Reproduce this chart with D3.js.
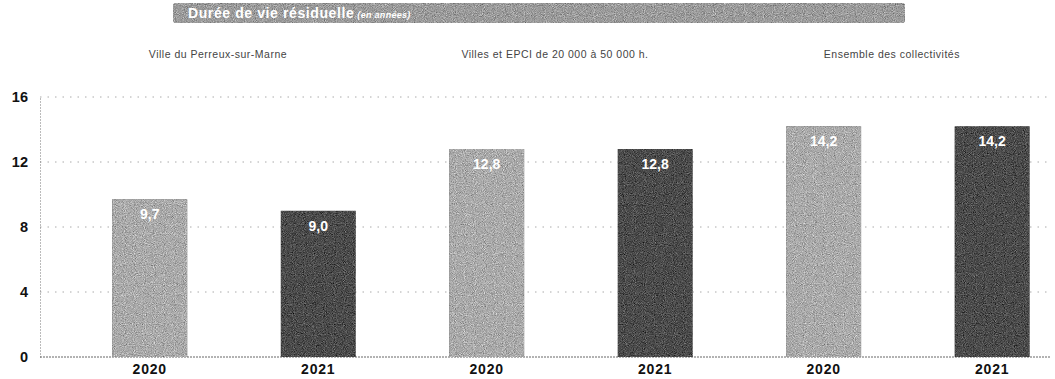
<!DOCTYPE html>
<html>
<head>
<meta charset="utf-8">
<script src="https://cdn.jsdelivr.net/npm/d3@7"></script>
<style>
  html, body { margin: 0; padding: 0; background: #fff; }
  svg { display: block; font-family: "Liberation Sans", Arial, sans-serif; }
</style>
</head>
<body>
<svg id="chart" width="1055" height="379"></svg>
<script>
// Durée de vie résiduelle de la dette (en années), par groupe et par exercice
const groups = ["Ville du Perreux-sur-Marne", "Villes et EPCI de 20 000 à 50 000 h.", "Ensemble des collectivités"];
const years = ["2020", "2021"];
const values2020 = [9.7, 12.8, 14.2];
const values2021 = [9.0, 12.8, 14.2];
const yTicks = [0, 4, 8, 12, 16];
const titleMain = "Durée de vie résiduelle";
const titleSub = "(en années)";

const bars = [];
groups.forEach((g, i) => {
  bars.push({ key: g + "|2020", group: g, year: years[0], value: values2020[i] });
  bars.push({ key: g + "|2021", group: g, year: years[1], value: values2021[i] });
});

const svg = d3.select("#chart");
const margin = { left: 40, right: 5, top: 97, bottom: 22 };
const W = 1055, H = 379;

const x = d3.scaleBand()
  .domain(bars.map(d => d.key))
  .range([margin.left, W - margin.right])
  .paddingInner(0.555)
  .paddingOuter(0.275)
  .align(0.78);

const y = d3.scaleLinear().domain([0, 16]).range([H - margin.bottom, margin.top]);

// grain texture for the filled shapes
const defs = svg.append("defs");
const f = defs.append("filter").attr("id", "grain")
  .attr("x", 0).attr("y", 0).attr("width", 1).attr("height", 1)
  .attr("color-interpolation-filters", "sRGB");
f.append("feTurbulence").attr("type", "fractalNoise").attr("baseFrequency", 1.1)
  .attr("numOctaves", 1).attr("seed", 7).attr("result", "noise");
f.append("feColorMatrix").attr("in", "noise").attr("type", "matrix")
  .attr("values", "0.33 0.33 0.33 0 0  0.33 0.33 0.33 0 0  0.33 0.33 0.33 0 0  0 0 0 0 1")
  .attr("result", "gnoise");
f.append("feComposite").attr("in", "SourceGraphic").attr("in2", "gnoise")
  .attr("operator", "arithmetic").attr("k1", 0).attr("k2", 1).attr("k3", 1.1).attr("k4", -0.55)
  .attr("result", "mix");
f.append("feComposite").attr("in", "mix").attr("in2", "SourceAlpha").attr("operator", "in");

// title banner
svg.append("rect")
  .attr("x", 173).attr("y", 3).attr("width", 732).attr("height", 20)
  .attr("rx", 3).attr("fill", "#9c9c9c").attr("filter", "url(#grain)");
const title = svg.append("text")
  .attr("x", 188).attr("y", 18)
  .attr("fill", "#fff").attr("font-weight", "bold").attr("font-size", 14)
  .attr("letter-spacing", 0.6);
title.append("tspan").text(titleMain);
title.append("tspan").attr("font-style", "italic").attr("font-size", 9)
  .attr("letter-spacing", 0.3).attr("dx", 3).text(titleSub);

// group headings
const groupCenter = g => (x(g + "|2020") + x(g + "|2021") + x.bandwidth()) / 2;
svg.append("g").selectAll("text")
  .data(groups).join("text")
  .attr("x", g => groupCenter(g) - 16)
  .attr("y", 58)
  .attr("text-anchor", "middle")
  .attr("font-size", 10.5)
  .attr("letter-spacing", 0.5)
  .attr("fill", "#444")
  .text(d => d);

// horizontal gridlines
svg.append("g").selectAll("line")
  .data(yTicks.filter(t => t > 0)).join("line")
  .attr("x1", margin.left).attr("x2", W - 5)
  .attr("y1", d => y(d)).attr("y2", d => y(d))
  .attr("stroke", "#aaa").attr("stroke-width", 1)
  .attr("stroke-dasharray", "1.5 6");

// y axis
const yAxis = d3.axisLeft(y).tickValues(yTicks).tickSize(0).tickPadding(12).tickFormat(d3.format("d"));
const ya = svg.append("g").attr("transform", `translate(${margin.left},0)`).call(yAxis);
ya.select(".domain").attr("stroke", "#777").attr("stroke-dasharray", "1 2");
ya.selectAll("text").attr("font-size", 14.5).attr("font-weight", "bold").attr("fill", "#111")
  .attr("font-family", "'Liberation Sans', Arial, sans-serif");

// baseline
svg.append("line")
  .attr("x1", margin.left).attr("x2", W - 5)
  .attr("y1", y(0)).attr("y2", y(0))
  .attr("stroke", "#666").attr("stroke-dasharray", "2 1");

// bars
svg.append("g").selectAll("rect")
  .data(bars).join("rect")
  .attr("x", d => x(d.key))
  .attr("y", d => y(d.value))
  .attr("width", x.bandwidth())
  .attr("height", d => y(0) - y(d.value))
  .attr("fill", d => d.year === "2020" ? "#ababab" : "#4c4c4c")
  .attr("filter", "url(#grain)");

// value labels inside bars
const fmt = v => d3.format(".1f")(v).replace(".", ",");
svg.append("g").selectAll("text")
  .data(bars).join("text")
  .attr("x", d => x(d.key) + x.bandwidth() / 2)
  .attr("y", d => y(d.value) + 20)
  .attr("text-anchor", "middle")
  .attr("font-size", 14).attr("font-weight", "bold")
  .attr("fill", "#fff")
  .text(d => fmt(d.value));

// x axis labels (years)
const xAxis = d3.axisBottom(x).tickSize(0).tickPadding(7).tickFormat(k => k.split("|")[1]);
const xa = svg.append("g").attr("transform", `translate(0,${y(0)})`).call(xAxis);
xa.select(".domain").remove();
xa.selectAll("text").attr("font-size", 14).attr("font-weight", "bold").attr("fill", "#111")
  .attr("letter-spacing", 0.8)
  .attr("font-family", "'Liberation Sans', Arial, sans-serif");
</script>
</body>
</html>
